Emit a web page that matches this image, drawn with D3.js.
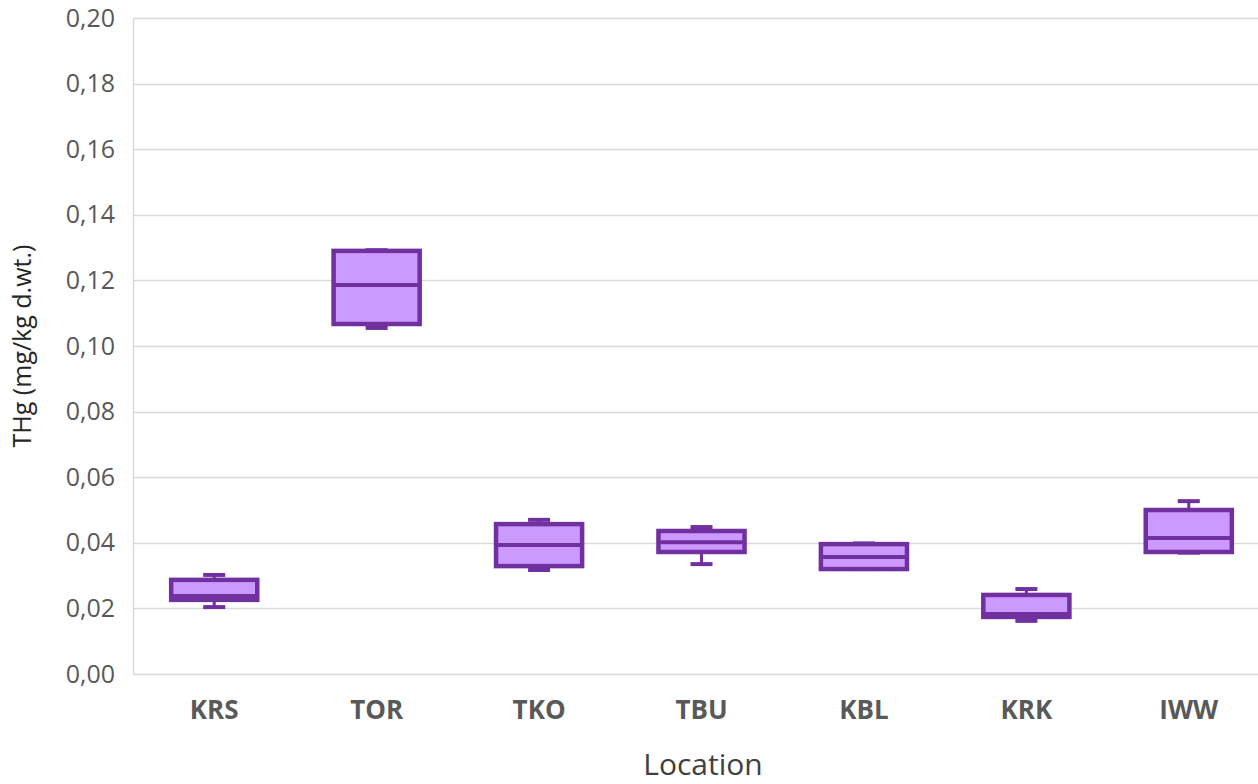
<!DOCTYPE html>
<html>
<head>
<meta charset="utf-8">
<script src="https://cdn.jsdelivr.net/npm/d3@7"></script>
<style>
  body { margin: 0; background: #fff; }
  svg { display: block; }
</style>
</head>
<body>
<div id="chart"></div>
<script>
const width = 1258, height = 784

const margin = { top: 18, right: -12, bottom: 110, left: 133 }

// data
const locations = ["KRS", "TOR", "TKO", "TBU", "KBL", "KRK", "IWW"]
const minValues = [0.0204, 0.1055, 0.0317, 0.0335, 0.0320, 0.0162, 0.0370]
const q1Values = [0.0226, 0.1067, 0.0329, 0.0372, 0.0320, 0.0174, 0.0372]
const medianValues = [0.0238, 0.1186, 0.0393, 0.0402, 0.0357, 0.0183, 0.0415]
const q3Values = [0.0287, 0.1290, 0.0457, 0.0436, 0.0396, 0.0241, 0.0500]
const maxValues = [0.0302, 0.1292, 0.0470, 0.0448, 0.0398, 0.0259, 0.0527]
const yTicks = [0, 0.02, 0.04, 0.06, 0.08, 0.10, 0.12, 0.14, 0.16, 0.18, 0.20]

const boxes = locations.map((loc, i) => ({
    loc: loc,
    min: minValues[i], q1: q1Values[i], med: medianValues[i],
    q3: q3Values[i], max: maxValues[i]
}))

const stroke = "#7030a0", fill = "#cc99ff", grid = "#d9d9d9", textCol = "#595959"

const svg = d3.select("#chart")
    .append("svg")
    .attr("width", width)
    .attr("height", height)

const x = d3.scaleBand()
    .domain(locations)
    .range([margin.left, width - margin.right])
    .paddingInner(0)
    .paddingOuter(0)

const y = d3.scaleLinear()
    .domain([0, 0.2])
    .range([height - margin.bottom, margin.top])

// gridlines
svg.append("g")
    .selectAll("line")
    .data(yTicks)
    .enter()
    .append("line")
    .attr("x1", margin.left)
    .attr("x2", width)
    .attr("y1", d => Math.round(y(d)) + 0.5)
    .attr("y2", d => Math.round(y(d)) + 0.5)
    .attr("stroke", grid)
    .attr("stroke-width", 1.5)

// left axis line
svg.append("line")
    .attr("x1", margin.left + 0.5)
    .attr("x2", margin.left + 0.5)
    .attr("y1", y(0.2))
    .attr("y2", y(0))
    .attr("stroke", grid)
    .attr("stroke-width", 1.5)

// y tick labels
const yAxis = svg.append("g")
    .attr("transform", `translate(${margin.left},0)`)
    .call(d3.axisLeft(y).tickValues(yTicks).tickSize(0).tickPadding(18)
        .tickFormat(d => d3.format(".2f")(d).replace(".", ",")))
yAxis.select(".domain").remove()
yAxis.selectAll("text")
    .attr("fill", textCol)
    .style("font-family", "'Open Sans', sans-serif")
    .style("font-size", "25px")

// x labels
const xAxis = svg.append("g")
    .attr("transform", `translate(0,${y(0)})`)
    .call(d3.axisBottom(x).tickSize(0).tickPadding(27))
xAxis.select(".domain").remove()
xAxis.selectAll("text")
    .attr("fill", textCol)
    .style("font-family", "'Open Sans', sans-serif")
    .style("font-weight", "bold")
    .style("font-size", "26px")

// axis titles
svg.append("text")
    .text("THg (mg/kg d.wt.)")
    .attr("transform", `translate(31,${(y(0) + y(0.2)) / 2}) rotate(-90)`)
    .attr("text-anchor", "middle")
    .attr("fill", "#262626")
    .style("font-family", "'Open Sans', sans-serif")
    .style("font-size", "25px")

svg.append("text")
    .text("Location")
    .attr("x", 703)
    .attr("y", 775)
    .attr("text-anchor", "middle")
    .attr("fill", "#404040")
    .style("font-family", "'Open Sans', sans-serif")
    .style("font-size", "30px")

// boxes
const boxW = x.bandwidth() * 0.53
const capW = 22

const g = svg.append("g")
    .selectAll("g")
    .data(boxes)
    .enter()
    .append("g")
    .attr("transform", d => `translate(${x(d.loc) + x.bandwidth() / 2},0)`)

// whiskers
g.append("line")
    .attr("x1", 0).attr("x2", 0)
    .attr("y1", d => y(d.max)).attr("y2", d => y(d.q3))
    .attr("stroke", stroke).attr("stroke-width", 3)
g.append("line")
    .attr("x1", 0).attr("x2", 0)
    .attr("y1", d => y(d.min)).attr("y2", d => y(d.q1))
    .attr("stroke", stroke).attr("stroke-width", 3)
g.append("line")
    .attr("x1", -capW / 2).attr("x2", capW / 2)
    .attr("y1", d => y(d.max)).attr("y2", d => y(d.max))
    .attr("stroke", stroke).attr("stroke-width", 4)
g.append("line")
    .attr("x1", -capW / 2).attr("x2", capW / 2)
    .attr("y1", d => y(d.min)).attr("y2", d => y(d.min))
    .attr("stroke", stroke).attr("stroke-width", 4)

g.append("rect")
    .attr("x", -boxW / 2)
    .attr("width", boxW)
    .attr("y", d => y(d.q3))
    .attr("height", d => y(d.q1) - y(d.q3))
    .attr("fill", fill)
    .attr("stroke", stroke)
    .attr("stroke-width", 4.5)

g.append("line")
    .attr("x1", -boxW / 2).attr("x2", boxW / 2)
    .attr("y1", d => y(d.med)).attr("y2", d => y(d.med))
    .attr("stroke", stroke).attr("stroke-width", 4)
</script>
</body>
</html>
